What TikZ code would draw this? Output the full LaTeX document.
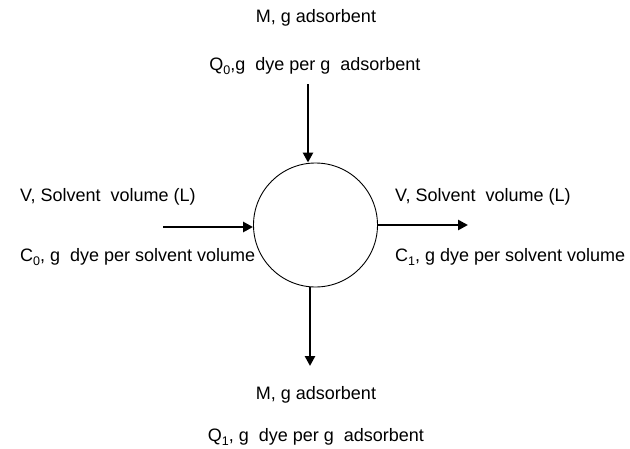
\documentclass[tikz,border=0pt]{standalone}
\usepackage{fontspec}
\setmainfont{Liberation Sans}
\usetikzlibrary{arrows.meta}
\newcommand{\sbs}[1]{\raisebox{-0.25em}{\fontsize{12.5}{14}\selectfont #1}}
\begin{document}
\begin{tikzpicture}[x=1pt,y=-1pt,
  lbl/.style={font=\fontsize{18}{20}\selectfont, inner sep=0pt},
  flow/.style={line width=2.6pt, -{Triangle[length=10pt,width=10pt]}}]
\useasboundingbox (0,0) rectangle (630,448);
\node[draw, circle, minimum size=124pt, inner sep=0pt, line width=0.9pt] (c) at (315.5,225) {};
\node[lbl] (mt) at (316,18) {M, g adsorbent};
\node[lbl] (qt) at (315,66) {Q\sbs{0},g\ \ dye per g\ \ adsorbent};
\node[lbl, anchor=west] (vl) at (20,197) {V, Solvent\ \ volume (L)};
\node[lbl, anchor=west] (cl) at (20,257) {C\sbs{0}, g\ \ dye per solvent volume};
\node[lbl, anchor=west] (vr) at (395,197) {V, Solvent\ \ volume (L)};
\node[lbl, anchor=west] (cr) at (395,257) {C\sbs{1}, g dye per solvent volume};
\node[lbl] (mb) at (316,395) {M, g adsorbent};
\node[lbl] (qb) at (316,437) {Q\sbs{1}, g\ \ dye per g\ \ adsorbent};
\coordinate (ti) at (308,84);
\coordinate (li) at (163,227);
\coordinate (ro) at (468,225);
\coordinate (bo) at (310,366);
\draw[flow] (ti) -- (ti |- c.north);
\draw[flow] (li) -- (li -| c.west);
\draw[flow] (c.east) -- (ro);
\draw[flow] (c.south -| bo) -- (bo);
\end{tikzpicture}
\end{document}
